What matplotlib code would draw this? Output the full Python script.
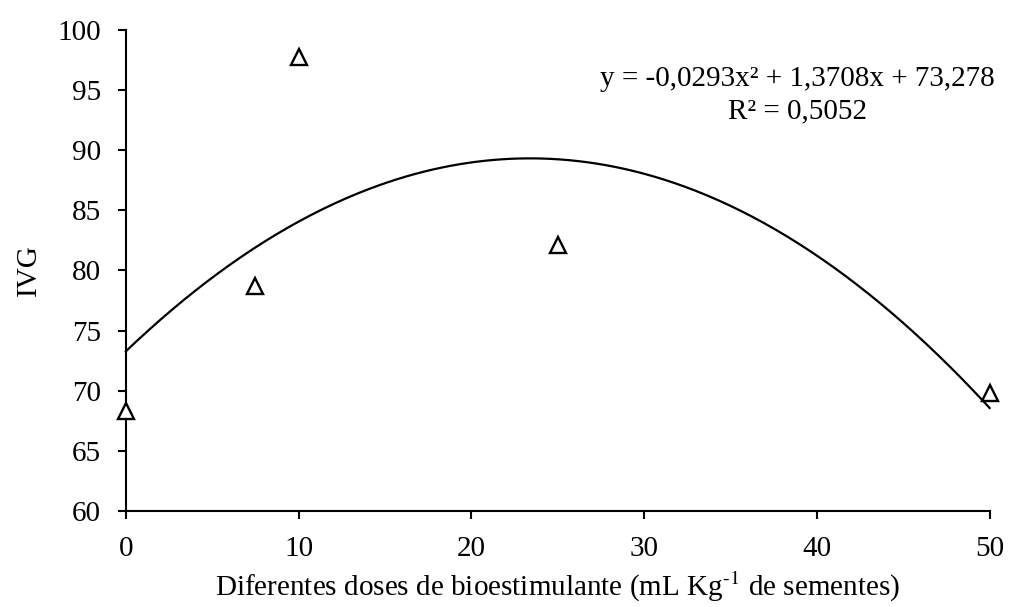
import numpy as np
import matplotlib.pyplot as plt
import matplotlib as mpl

mpl.rcParams["font.family"] = ["Liberation Serif", "DejaVu Serif"]
mpl.rcParams["mathtext.fontset"] = "stix"

# observed data
doses = [0, 7.5, 10, 25, 50]
ivg = [68.3, 78.7, 97.7, 82.1, 69.8]

# fitted quadratic trend (coefficients as printed on the chart)
coef = [-0.0293, 1.3708, 73.278]
eq_text = "y = -0,0293x² + 1,3708x + 73,278\nR² = 0,5052"

xticks = [0, 10, 20, 30, 40, 50]
yticks = [60, 65, 70, 75, 80, 85, 90, 95, 100]

fig = plt.figure(figsize=(10.15, 6.07), dpi=100)
ax = fig.add_axes([0.124, 0.158, 0.851, 0.793])

xfit = np.linspace(0, 50, 300)
ax.plot(xfit, np.polyval(coef, xfit), color="black", linewidth=1.6, clip_on=False)
ax.plot(doses, ivg, linestyle="none", marker="^", markersize=11,
        markerfacecolor="white", markeredgecolor="black", markeredgewidth=1.7,
        clip_on=False, zorder=3)

ax.set_xlim(0, 50)
ax.set_ylim(60, 100)
ax.set_xticks(xticks)
ax.set_yticks(yticks)

for s in ["top", "right"]:
    ax.spines[s].set_visible(False)
for s in ["left", "bottom"]:
    ax.spines[s].set_linewidth(1.5)
ax.tick_params(direction="out", length=6, width=1.5, labelsize=21)
ax.tick_params(axis="y", pad=12)
ax.tick_params(axis="x", pad=12)

ax.set_ylabel("IVG", fontsize=21, labelpad=11)
ax.set_xlabel(r"Diferentes doses de bioestimulante (mL Kg$^{\text{-1}}$ de sementes)",
              fontsize=21, labelpad=6)

ax.text(0.786, 0.843, eq_text, transform=fig.transFigure, ha="center", va="center",
        fontsize=21, linespacing=1.35)

fig.savefig("out.png", dpi=100)
